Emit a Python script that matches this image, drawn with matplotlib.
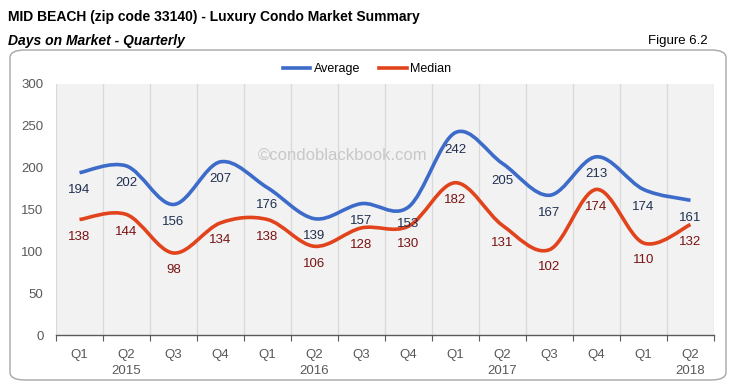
import matplotlib
matplotlib.use("Agg")
import matplotlib.pyplot as plt
from matplotlib.path import Path
from matplotlib.patches import PathPatch, FancyBboxPatch
from matplotlib.lines import Line2D

# data
quarters = ["Q1", "Q2", "Q3", "Q4", "Q1", "Q2", "Q3", "Q4", "Q1", "Q2", "Q3", "Q4", "Q1", "Q2"]
years = ["2015", "2016", "2017", "2018"]
year_pos = [1, 5, 9, 13]
average = [194, 202, 156, 207, 176, 139, 157, 153, 242, 205, 167, 213, 174, 161]
median = [138, 144, 98, 134, 138, 106, 128, 130, 182, 131, 102, 174, 110, 132]

blue = "#3d6bc9"
red = "#e1441d"
plt.rcParams['font.family'] = ['Liberation Sans', 'DejaVu Sans']

fig = plt.figure(figsize=(7.34, 3.86), dpi=100)

# rounded frame around chart
box = FancyBboxPatch((10/734, 1 - 380/386), 716/734, 330/386,
                     boxstyle="round,pad=0,rounding_size=0.02",
                     transform=fig.transFigure, fc="white", ec="#a6a6a6", lw=1.0,
                     zorder=-5)
fig.add_artist(box)

fig.text(8/734, 1 - 17/386, "MID BEACH (zip code 33140) - Luxury Condo Market Summary",
         fontsize=10, fontweight="bold", va="center", ha="left")
fig.text(8/734, 1 - 41/386, "Days on Market - Quarterly", fontsize=10,
         fontweight="bold", fontstyle="italic", va="center", ha="left")
fig.text(708/734, 1 - 41/386, "Figure 6.2", fontsize=9.5, va="center", ha="right")

ax = fig.add_axes([56/734, 1 - 335/386, 658/734, 251/386])
ax.set_facecolor("#f2f2f2")


def smooth(ax, xs, ys, color):
    # Excel-style smoothed line as cubic bezier segments
    n = len(xs)
    verts = [(xs[0], ys[0])]
    codes = [Path.MOVETO]
    for i in range(n - 1):
        p0 = (xs[max(i - 1, 0)], ys[max(i - 1, 0)])
        p1 = (xs[i], ys[i])
        p2 = (xs[i + 1], ys[i + 1])
        p3 = (xs[min(i + 2, n - 1)], ys[min(i + 2, n - 1)])
        c1 = (p1[0] + (p2[0] - p0[0]) / 6, p1[1] + (p2[1] - p0[1]) / 6)
        c2 = (p2[0] - (p3[0] - p1[0]) / 6, p2[1] - (p3[1] - p1[1]) / 6)
        verts += [c1, c2, p2]
        codes += [Path.CURVE4] * 3
    ax.add_patch(PathPatch(Path(verts, codes), fc="none", ec=color, lw=2.6,
                           capstyle="butt", zorder=3))


x = list(range(len(quarters)))
smooth(ax, x, average, blue)
smooth(ax, x, median, red)

for xi, v in zip(x, average):
    ax.annotate(str(v), (xi, v), xytext=(0, -12.5), textcoords="offset points",
                ha="center", va="center", fontsize=9.5, color="#203050", zorder=4)
for xi, v in zip(x, median):
    ax.annotate(str(v), (xi, v), xytext=(0, -12.5), textcoords="offset points",
                ha="center", va="center", fontsize=9.5, color="#7a1212", zorder=4)

ax.text(5.6, 215, "\u00a9condoblackbook.com", fontsize=12, color="#c8c8c8",
        ha="center", va="center", zorder=2)

ax.set_xlim(-0.5, 13.5)
ax.set_ylim(0, 300)
ax.set_yticks(range(0, 301, 50))
ax.tick_params(axis="y", length=0, labelsize=9.5, labelcolor="#595959", pad=9)

ax.set_xticks([i - 0.5 for i in range(15)], minor=False)
ax.set_xticklabels([])
ax.set_xticks(x, minor=True)
ax.set_xticklabels(quarters, minor=True)
ax.tick_params(axis="x", which="major", length=4, color="#595959", direction="out")
ax.tick_params(axis="x", which="minor", length=0, labelsize=9.5, labelcolor="#595959", pad=10)
ax.grid(axis="x", which="major", color="#d9d9d9", lw=0.9)
ax.set_axisbelow(True)

for xp, yr in zip(year_pos, years):
    ax.text(xp, -0.12, yr, transform=ax.get_xaxis_transform(), ha="center", va="top",
            fontsize=9.5, color="#595959")

for s in ["top", "right", "left"]:
    ax.spines[s].set_visible(False)
ax.spines["bottom"].set_color("#595959")
ax.spines["bottom"].set_linewidth(1.0)

handles = [Line2D([], [], color=blue, lw=2.6), Line2D([], [], color=red, lw=2.6)]
fig.legend(handles, ["Average", "Median"], loc="center", bbox_to_anchor=(367/734, 1 - 69/386),
           ncol=2, frameon=False, fontsize=9, handlelength=2.2, handletextpad=0.3,
           columnspacing=1.5)

fig.savefig("out.png", dpi=100)
